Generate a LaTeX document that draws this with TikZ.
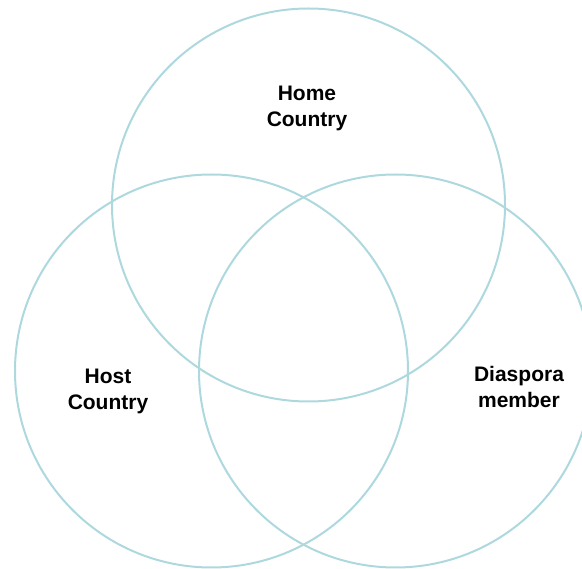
\documentclass[tikz,border=0pt]{standalone}
\usepackage{fontspec}
\setmainfont{Liberation Sans}
\definecolor{ringblue}{RGB}{172,216,222}
\begin{document}
\begin{tikzpicture}[x=1pt,y=-1pt,
  ring/.style={draw=ringblue,line width=2pt},
  lbl/.style={font=\fontsize{21}{26}\selectfont\bfseries,align=center,inner sep=0pt}]
\useasboundingbox (0,0) rectangle (582,569);
\begin{scope}
\clip (0,0) rectangle (582,569);
\draw[ring] (308.5,205) circle[radius=196.5];
\draw[ring] (211.5,371) circle[radius=196.5];
\draw[ring] (395.5,371) circle[radius=196.5];
\end{scope}
\node[lbl] (home) at (307,108) {Home\\Country};
\node[lbl] (host) at (108,391) {Host\\Country};
\node[lbl] (dias) at (519,387) {Diaspora\\member};
\end{tikzpicture}
\end{document}
